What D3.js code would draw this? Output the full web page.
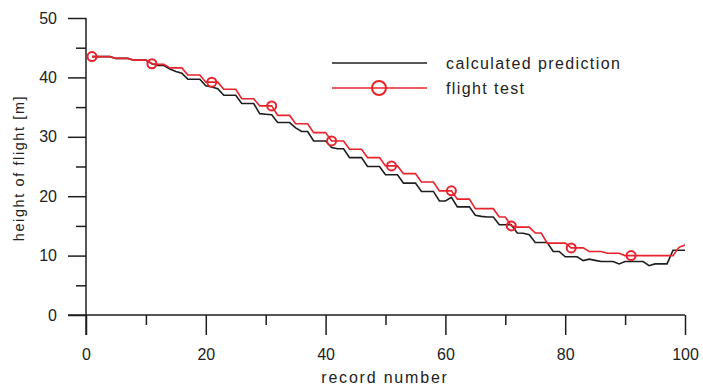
<!DOCTYPE html>
<html><head><meta charset="utf-8">
<script src="https://cdn.jsdelivr.net/npm/d3@7"></script>
<style>body{margin:0;background:#fff;}svg{display:block;font-family:"Liberation Sans",Arial,sans-serif;}</style>
</head><body><svg id="c" width="703" height="387"></svg>
<script>
const records = d3.range(1, 101);
const predicted = [43.5,43.5,43.5,43.5,43.2,43.2,43.2,42.9,42.9,42.9,
  42.3,42.0,42.0,41.4,41.0,40.7,39.7,39.7,39.7,38.6,
  38.4,38.1,37.0,37.0,37.0,35.6,35.6,35.6,33.9,33.8,
  33.7,32.4,32.4,32.4,31.5,30.9,30.9,29.3,29.3,29.3,
  28.2,28.0,28.0,26.5,26.5,26.5,25.0,25.0,25.0,23.6,
  23.6,23.6,22.2,22.2,22.2,20.8,20.8,20.8,19.2,19.2,
  19.8,18.2,18.2,18.2,16.8,16.6,16.5,16.5,15.2,15.2,
  15.2,13.8,13.75,13.5,12.2,12.2,12.2,10.7,10.7,9.8,
  9.8,9.8,9.15,9.4,9.2,9.0,9.0,9.0,8.6,9.0,
  9.0,9.0,9.0,8.3,8.6,8.6,8.6,10.9,10.9,10.9];
const measured = [43.5,43.5,43.5,43.5,43.2,43.2,43.2,42.9,42.9,42.9,
  42.3,42.2,42.2,41.6,41.6,41.6,40.4,40.4,40.4,39.2,
  39.2,39.2,38.0,38.0,38.0,36.4,36.4,36.4,35.2,35.2,
  35.2,33.6,33.6,33.6,32.2,32.2,32.2,30.7,30.7,30.7,
  29.3,29.3,29.3,27.9,27.9,27.9,26.5,26.5,26.5,25.1,
  25.1,25.1,23.8,23.8,23.8,22.4,22.4,22.4,20.9,20.9,
  20.9,19.5,19.5,19.5,17.9,17.9,17.9,17.9,16.5,16.5,
  15.0,14.8,14.8,14.8,13.8,13.8,12.1,12.1,12.1,12.1,
  11.3,11.3,11.3,10.7,10.7,10.7,10.4,10.4,10.4,10.0,
  10.0,10.0,10.0,10.0,10.0,10.0,10.0,10.0,11.4,11.8];
const markerRecords = [1,11,21,31,41,51,61,71,81,91];
const xTicks = [0,20,40,60,80,100];
const yTicks = [0,10,20,30,40,50];
const seriesNames = ["calculated prediction","flight test"];
const xTitle = "record number";
const yTitle = "height of flight [m]";

const RED = "#e8232b", BLACK = "#1e1e1e";
const svg = d3.select("#c");
const x = d3.scaleLinear().domain([0,100]).range([86,685]);
const y = d3.scaleLinear().domain([0,50]).range([315,18]);

// axes
const xAxisMajor = d3.axisBottom(x).tickValues(xTicks).tickSize(20).tickPadding(14).tickFormat(d3.format("d"));
const gx = svg.append("g").attr("transform","translate(0,315)").call(xAxisMajor);
gx.select(".domain").remove();
gx.append("line").attr("x1",68).attr("x2",685).attr("stroke",BLACK).attr("stroke-width",1.5);
gx.selectAll(".tick line").attr("stroke",BLACK).attr("stroke-width",1.5);
gx.selectAll(".tick text").attr("font-size",16).attr("fill","#222").attr("font-family","Liberation Sans, Arial, sans-serif");
const gxm = svg.append("g").attr("transform","translate(0,315)")
  .call(d3.axisBottom(x).tickValues([10,30,50,70,90]).tickSize(10).tickFormat(""));
gxm.select(".domain").remove();
gxm.selectAll(".tick line").attr("stroke",BLACK).attr("stroke-width",1.5);

const gy = svg.append("g").attr("transform","translate(86,0)")
  .call(d3.axisLeft(y).tickValues(yTicks).tickSize(18).tickPadding(11).tickFormat(d3.format("d")));
gy.select(".domain").remove();
gy.append("line").attr("y1",18).attr("y2",335).attr("stroke",BLACK).attr("stroke-width",1.5);
gy.selectAll(".tick line").attr("stroke",BLACK).attr("stroke-width",1.5);
gy.selectAll(".tick text").attr("font-size",16).attr("fill","#222").attr("font-family","Liberation Sans, Arial, sans-serif");
const gym = svg.append("g").attr("transform","translate(86,0)")
  .call(d3.axisLeft(y).tickValues([5,15,25,35,45]).tickSize(10).tickFormat(""));
gym.select(".domain").remove();
gym.selectAll(".tick line").attr("stroke",BLACK).attr("stroke-width",1.5);

// titles
svg.append("text").attr("x",385).attr("y",383).attr("text-anchor","middle")
  .attr("font-size",16).attr("letter-spacing",1.8).attr("fill","#222").text(xTitle);
svg.append("text").attr("transform","translate(24,168) rotate(-90)").attr("text-anchor","middle")
  .attr("font-size",14.5).attr("letter-spacing",1.6).attr("fill","#222").text(yTitle);

// lines
const line = d3.line().x((d,i)=>x(records[i])).y(d=>y(d));
svg.append("path").datum(predicted).attr("d",line).attr("fill","none").attr("stroke",BLACK).attr("stroke-width",1.6);
svg.append("path").datum(measured).attr("d",line).attr("fill","none").attr("stroke",RED).attr("stroke-width",1.6);
svg.selectAll("circle.m").data(markerRecords).enter().append("circle").attr("class","m")
  .attr("cx",r=>x(r)).attr("cy",r=>y(measured[r-1])).attr("r",4.5)
  .attr("fill","none").attr("stroke",RED).attr("stroke-width",2);

// legend
const lg = svg.append("g");
lg.append("line").attr("x1",332).attr("x2",427).attr("y1",63).attr("y2",63).attr("stroke",BLACK).attr("stroke-width",1.6);
lg.append("line").attr("x1",332).attr("x2",427).attr("y1",88).attr("y2",88).attr("stroke",RED).attr("stroke-width",1.6);
lg.append("circle").attr("cx",379).attr("cy",88).attr("r",7).attr("fill","none").attr("stroke",RED).attr("stroke-width",2);
lg.selectAll("text").data(seriesNames).enter().append("text")
  .attr("x",446).attr("y",(d,i)=>69+i*25).attr("font-size",16).attr("letter-spacing",1.4).attr("fill","#222").text(d=>d);
</script></body></html>
